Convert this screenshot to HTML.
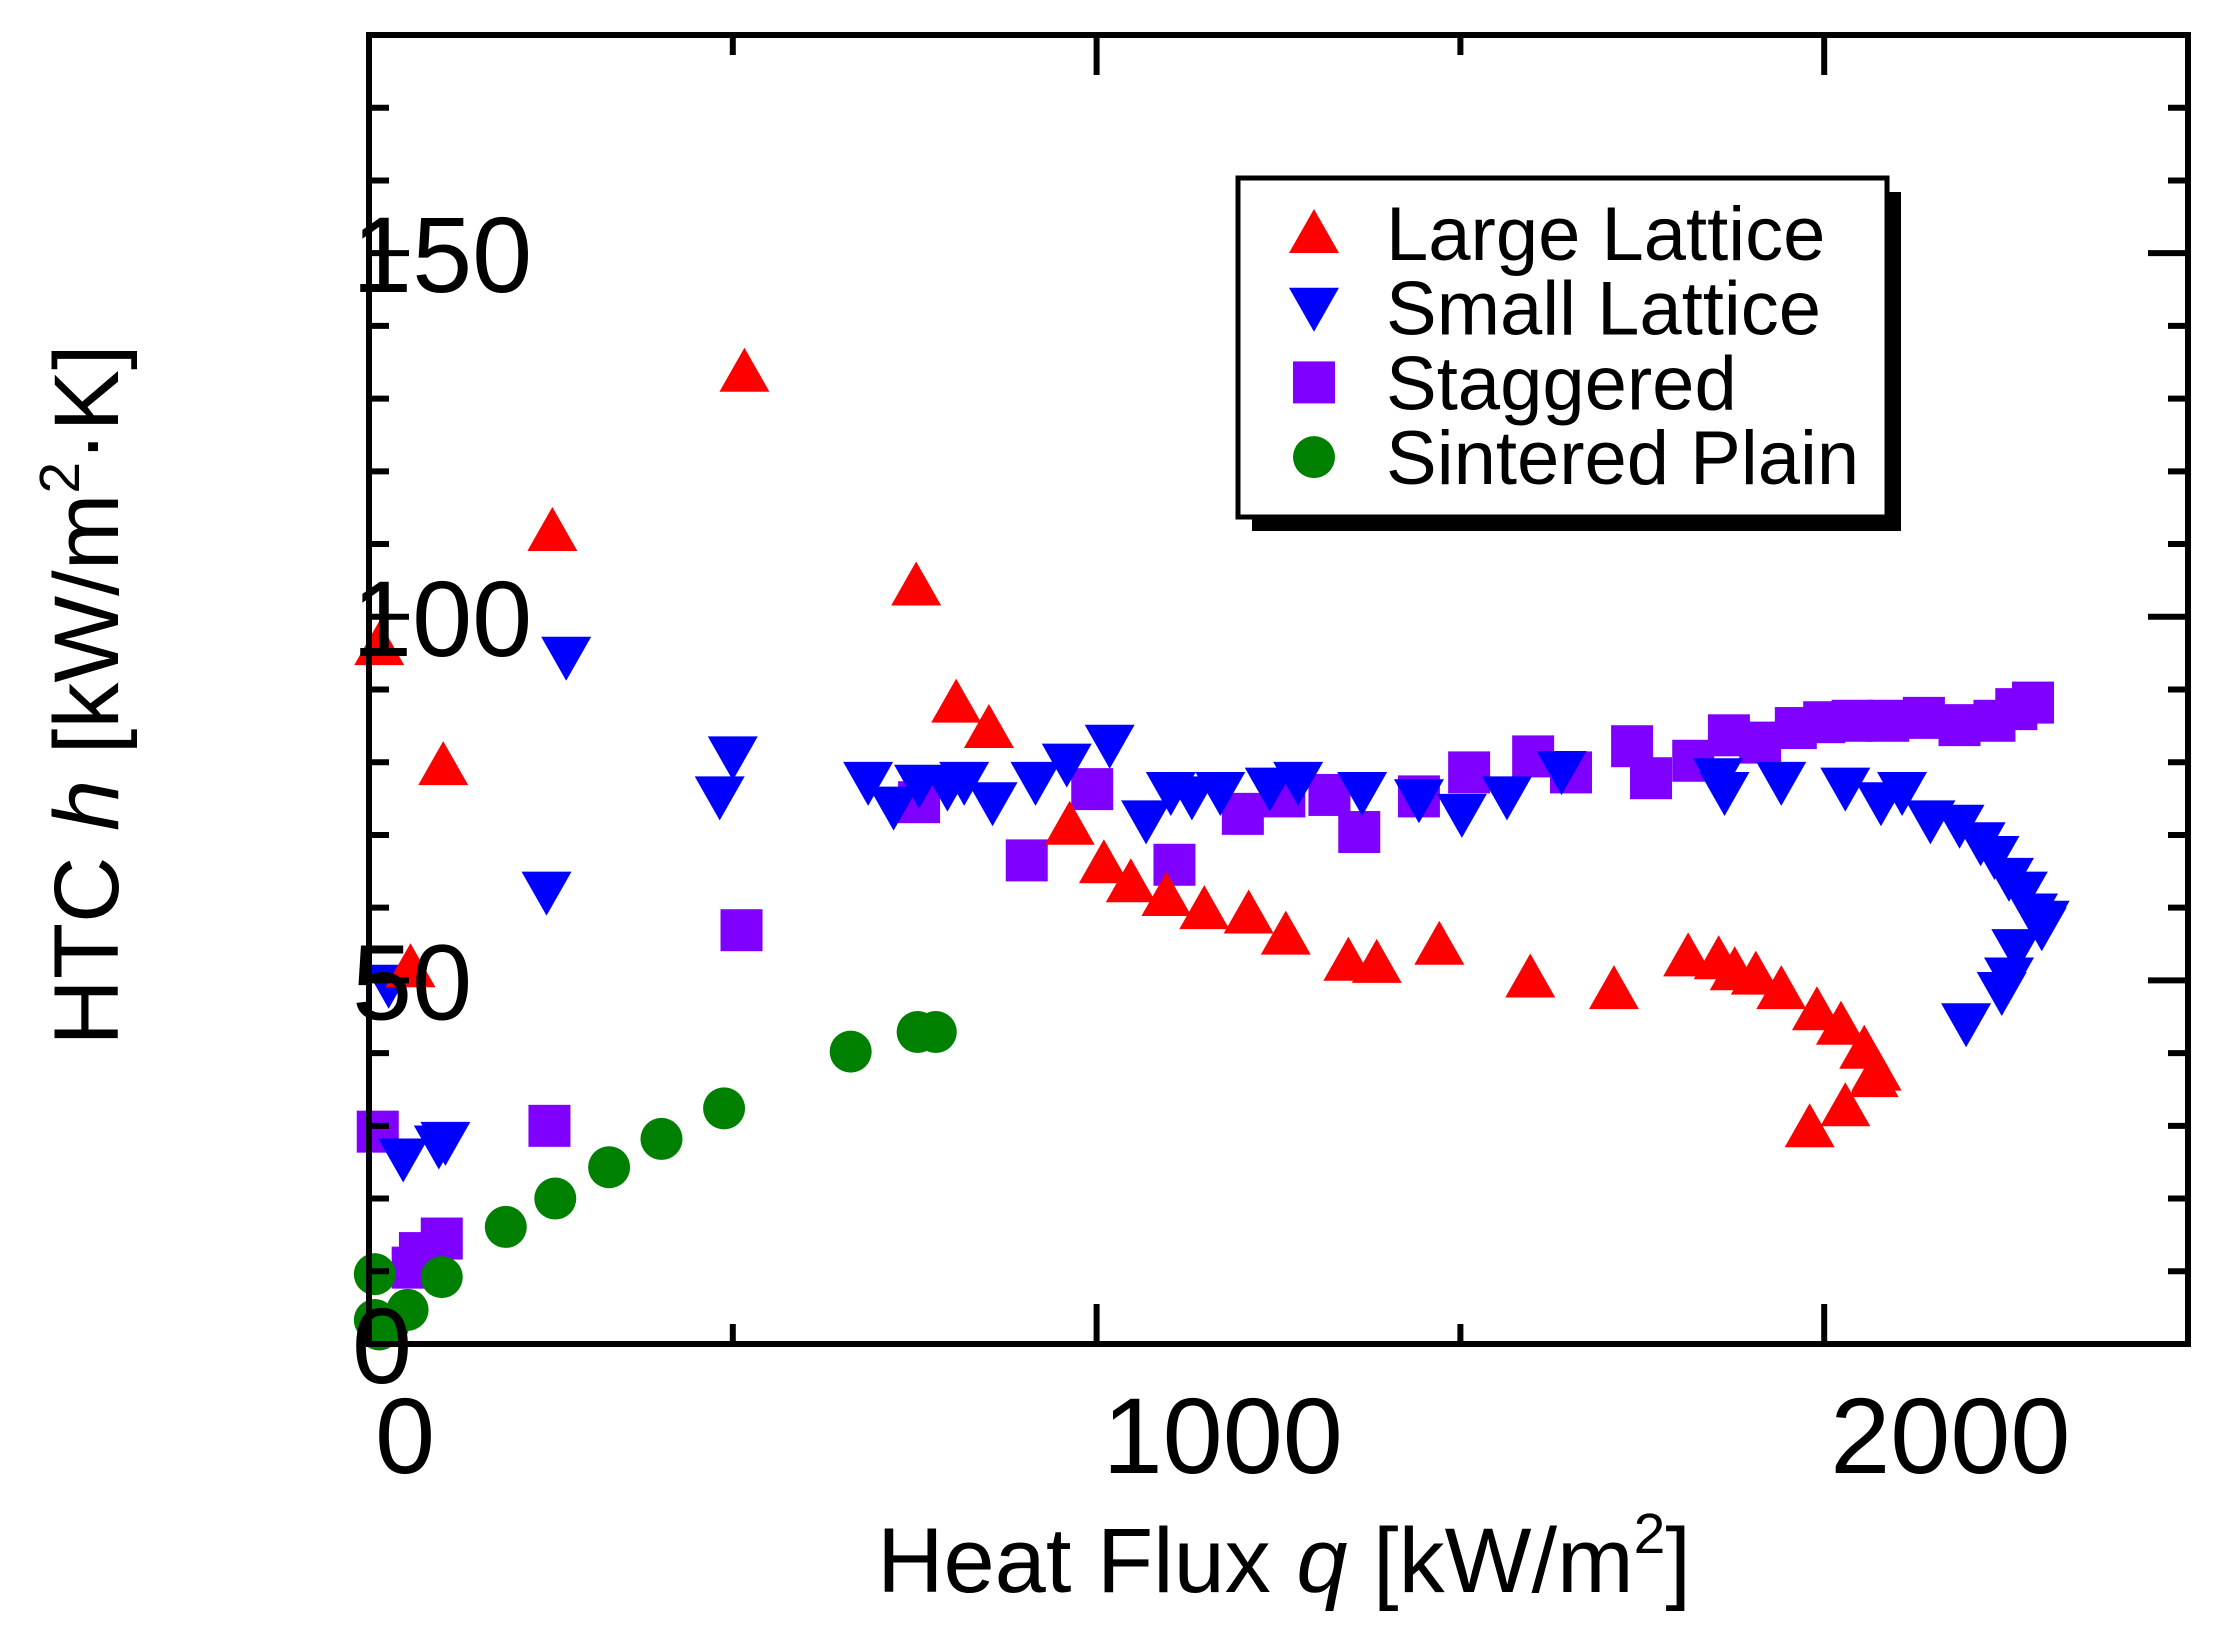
<!DOCTYPE html>
<html><head><meta charset="utf-8"><style>
html,body{margin:0;padding:0;background:#fff;}
svg{display:block;font-family:"Liberation Sans",Arial,sans-serif;}
</style></head><body>
<svg id="chart" width="2226" height="1637" viewBox="0 0 2226 1637" xmlns="http://www.w3.org/2000/svg">
<rect x="0" y="0" width="2226" height="1637" fill="#fff"/>
<g id="marks"></g>
<g id="axes"></g>
<text x="1284" y="1592" font-size="92" text-anchor="middle">Heat Flux <tspan font-style="italic">q</tspan> [kW/m<tspan font-size="57" dy="-39">2</tspan><tspan dy="39">]</tspan></text>
<text transform="translate(118,695) rotate(-90)" font-size="92" text-anchor="middle">HTC <tspan font-style="italic">h</tspan> [kW/m<tspan font-size="57" dy="-39">2</tspan><tspan dy="39">·K]</tspan></text>
<g>
<rect x="1252" y="192" width="649" height="339" fill="#000"/>
<rect x="1238" y="178" width="649" height="339" fill="#fff" stroke="#000" stroke-width="5"/>
<g id="legend-items"></g>
</g>
</svg>
<script>
const xLL=[14,57,102,252,516,752,807,852,963,1010,1047,1096,1148,1209,1260,1346,1385,1471,1596,1711,1813,1855,1877,1906,1941,1990,2023,2055,2072,2068,2029,1980];
const yLL=[96.1,51.8,79.6,111.8,133.7,104.3,88.2,84.7,71.4,66.1,63.5,61.6,59.8,59.2,56.3,52.7,52.4,54.9,50.4,48.8,53.3,52.9,51.4,50.8,48.8,45.9,43.9,40.6,37.6,36.7,32.7,29.8];
const xSL=[27,47,96,105,244,271,482,500,686,721,756,795,818,857,916,959,1018,1068,1102,1131,1170,1238,1277,1365,1443,1502,1564,1639,1854,1863,1941,2029,2078,2107,2146,2186,2215,2234,2254,2273,2287,2299,2303,2264,2254,2244,2195];
const ySL=[49.4,25.5,27.3,27.8,62.2,94.5,75.3,80.8,77.3,73.9,76.9,76.5,77.3,74.5,77.3,79.8,82.4,72.0,75.9,75.3,75.9,76.5,77.3,75.9,74.9,72.9,75.3,78.8,77.8,75.9,77.3,76.5,74.5,75.9,72.0,71.4,69.0,67.1,64.1,62.2,59.2,57.3,58.2,54.3,50.4,48.4,44.1];
const xST=[12,60,70,100,248,512,756,904,994,1107,1201,1258,1320,1361,1443,1512,1600,1652,1736,1762,1820,1869,1912,1961,2000,2039,2088,2137,2186,2234,2264,2287];
const yST=[29.2,10.5,12.5,14.5,30.0,56.9,74.5,66.5,76.3,65.9,72.9,75.3,75.5,70.4,75.3,78.6,80.8,78.6,82.2,77.8,80.2,83.7,82.7,84.7,85.5,85.7,85.7,86.1,85.1,85.7,87.3,88.2];
const xSP=[8,8,14,27,53,100,188,256,330,402,488,662,754,779];
const ySP=[9.6,3.3,2.0,2.7,4.7,9.2,16.1,20.0,24.3,28.2,32.4,40.2,42.9,42.9];
const xTicks=[0,1000,2000];
const yTicks=[0,50,100,150];
const X0=369,X1=2188,Y0=1344,Y1=35,XMAX=2500,YMAX=180;
const sx=v=>X0+(X1-X0)*v/XMAX;
const sy=v=>Y0-(Y0-Y1)*v/YMAX;
const NS='http://www.w3.org/2000/svg';
function mk(tag,attrs,parent){const e=document.createElementNS(NS,tag);for(const k in attrs)e.setAttribute(k,attrs[k]);parent.appendChild(e);return e;}
function marker(type,cx,cy,parent){
  let e;
  if(type==='up')e=mk('polygon',{points:`${cx-25},${cy+20} ${cx+25},${cy+20} ${cx},${cy-24}`,fill:'#ff0000'},parent);
  else if(type==='down')e=mk('polygon',{points:`${cx-25},${cy-20} ${cx+25},${cy-20} ${cx},${cy+24}`,fill:'#0000ff'},parent);
  else if(type==='sq')e=mk('rect',{x:cx-21,y:cy-21,width:42,height:42,fill:'#8000ff'},parent);
  else e=mk('circle',{cx:cx,cy:cy,r:21,fill:'#008000'},parent);
  return e;
}
const marks=document.getElementById('marks');
const series=[['sq',xST,yST,'staggered-point'],['down',xSL,ySL,'small-lattice-point'],['up',xLL,yLL,'large-lattice-point'],['circ',xSP,ySP,'sintered-plain-point']];
series.forEach(s=>{const g=mk('g',{},marks);
  
  
  s[1].forEach((xv,i)=>{const e=marker(s[0],sx(xv),sy(s[2][i]),g);
    
    });});
const axes=document.getElementById('axes');
const frame=mk('rect',{x:X0,y:Y1,width:X1-X0,height:Y0-Y1,fill:'none',stroke:'#000','stroke-width':6},axes);


for(let v=0;v<=XMAX;v+=500){const L=(v%1000===0)?40:20;const x=sx(v);
  mk('line',{x1:x,y1:Y0,x2:x,y2:Y0-L,stroke:'#000','stroke-width':6},axes);
  mk('line',{x1:x,y1:Y1,x2:x,y2:Y1+L,stroke:'#000','stroke-width':6},axes);}
for(let v=0;v<=YMAX;v+=10){const L=(v%50===0)?40:20;const y=sy(v);
  mk('line',{x1:X0,y1:y,x2:X0+L,y2:y,stroke:'#000','stroke-width':6},axes);
  mk('line',{x1:X1,y1:y,x2:X1-L,y2:y,stroke:'#000','stroke-width':6},axes);}
xTicks.forEach(v=>{const t=mk('text',{x:sx(v)+6,y:1473,'font-size':108},axes);t.textContent=String(v);
  
  });
yTicks.forEach(v=>{const t=mk('text',{x:352,y:sy(v)+39,'font-size':108},axes);t.textContent=String(v);
  
  });
const legendLabels=['Large Lattice','Small Lattice','Staggered','Sintered Plain'];
const legendTypes=['up','down','sq','circ'];
const li=document.getElementById('legend-items');
legendLabels.forEach((lab,i)=>{const y=233+i*74.7;const g=mk('g',{},li);
  
  
  marker(legendTypes[i],1314,y,g);
  const t=mk('text',{x:1386,y:y+27,'font-size':76},g);t.textContent=lab;});
</script>
</body></html>
